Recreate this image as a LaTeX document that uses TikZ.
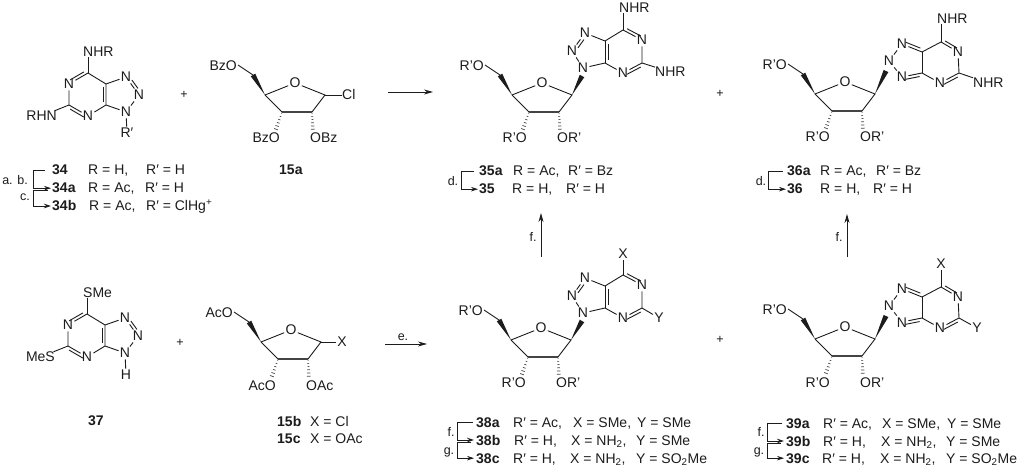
\documentclass[tikz,border=0pt]{standalone}
\usepackage{fontspec}
\setmainfont{Liberation Sans}
\usetikzlibrary{calc,arrows.meta}
\definecolor{ink}{HTML}{1c1c1c}
\definecolor{softink}{HTML}{444444}
\tikzset{
  bond/.style={line width=0.9pt,draw=ink},
  boldbond/.style={line width=1.5pt,draw=softink},
  atom/.style={inner sep=1.2pt,text height=10pt,text depth=0pt,text=ink},
  lab/.style={inner sep=0pt,anchor=base west,text=ink},
  note/.style={inner sep=0pt,text=ink,font=\fontsize{12.5}{14}\selectfont},
  bracket/.style={line width=0.85pt,draw=ink,-{Stealth[length=7pt,width=4.5pt]}},
  react/.style={line width=0.85pt,draw=ink,-{Stealth[length=9pt,width=5pt]}},
}
% inner line of a double bond
\newcommand{\dbl}[3]{\draw[bond,shorten <=#3,shorten >=#3] ($(#1)!3pt!90:(#2)$) -- ($(#2)!3pt!-90:(#1)$);}
\newcommand{\dblr}[3]{\draw[bond,shorten <=#3,shorten >=#3] ($(#1)!3pt!-90:(#2)$) -- ($(#2)!3pt!90:(#1)$);}
\newcommand{\wedgeb}[2]{\fill[ink] (#1) -- ($(#2)!2.6pt!90:(#1)$) -- ($(#2)!2.6pt!-90:(#1)$) -- cycle;}
\newcommand{\hashb}[2]{\foreach \t/\w in {0.06/0.5,0.22/0.8,0.38/1.1,0.54/1.4,0.70/1.7,0.86/2.0,1/2.3}{%
  \draw[line width=0.7pt,softink] ($($(#1)!\t!(#2)$)!\w pt!90:(#2)$) -- ($($(#1)!\t!(#2)$)!\w pt!-90:(#2)$);}}
% sugar: prefix, x, y, 5'-label, 3'-label, 2'-label
\newcommand{\sugar}[6]{%
\begin{scope}[shift={(#2,#3)}]
  \coordinate (#1c4) at (0,0);
  \coordinate (#1c5) at (-12,-20);
  \coordinate (#1c3) at (17,17);
  \coordinate (#1c2) at (47,17);
  \coordinate (#1c1) at (60,0);
  \coordinate (#1h3) at (10,37);
  \coordinate (#1h2) at (48,37);
  \node[atom] (#1o) at (30,-12) {O};
  \node[atom,anchor=east,inner sep=0pt] (#1o5) at (-28,-29) {#4};
  \node[atom,anchor=east,inner sep=0pt] (#1o3) at (15,43) {#5};
  \node[atom,anchor=west,inner sep=0pt] (#1o2) at (45,43) {#6};
  \draw[bond] (#1c4) -- (#1o) -- (#1c1) -- (#1c2);
  \draw[bond] (#1c3) -- (#1c4);
  \draw[boldbond] (#1c2) -- (#1c3);
  \draw[bond] (#1c5) -- ([xshift=1pt,yshift=1pt]#1o5.east);
  \wedgeb{#1c4}{#1c5}
  \hashb{#1c3}{#1h3}
  \hashb{#1c2}{#1h2}
\end{scope}}
% base linked through the N next to the ring
\newcommand{\baseA}[1]{%
  \node[atom] (#1n9) at (71,-27) {N};
  \node[atom] (#1n8) at (60,-44) {N};
  \node[atom] (#1n7) at (73,-62) {N};
  \coordinate (#1c5b) at (93,-54);
  \coordinate (#1c4b) at (93,-32);
  \coordinate (#1c6b) at (111,-65);
  \node[atom] (#1n1) at (130,-55) {N};
  \coordinate (#1c2b) at (130,-32);
  \node[atom] (#1n3) at (111,-22) {N};
  \draw[bond] (#1n9) -- (#1n8) -- (#1n7) -- (#1c5b) -- (#1c6b) -- (#1n1) -- (#1c2b) -- (#1n3) -- (#1c4b) -- (#1n9);
  \draw[bond] (#1c4b) -- (#1c5b);
  \dbl{#1c5b}{#1c4b}{3pt}
  \dbl{#1c6b}{#1n1}{3pt}
  \dbl{#1c2b}{#1n3}{3pt}
  \dblr{#1n8}{#1n7}{6pt}
}
\newcommand{\baseB}[1]{%
  \node[atom] (#1n9) at (74,-33) {N};
  \node[atom] (#1n8) at (87,-50) {N};
  \node[atom] (#1n7) at (87,-17) {N};
  \coordinate (#1c5b) at (107,-42);
  \coordinate (#1c4b) at (107,-21);
  \coordinate (#1c6b) at (126,-52);
  \node[atom] (#1n1) at (143,-42) {N};
  \coordinate (#1c2b) at (144,-21);
  \node[atom] (#1n3) at (125,-11) {N};
  \draw[bond] (#1n9) -- (#1n8) -- (#1c5b) -- (#1c6b) -- (#1n1) -- (#1c2b) -- (#1n3) -- (#1c4b) -- (#1n7) -- (#1n9);
  \draw[bond] (#1c4b) -- (#1c5b);
  \dbl{#1n8}{#1c5b}{3pt}
  \dblr{#1n7}{#1c4b}{3pt}
  \dbl{#1c6b}{#1n1}{3pt}
  \dbl{#1c2b}{#1n3}{3pt}
}
% free bicycle
\newcommand{\baseC}[1]{%
  \coordinate (#1c6) at (0,0);
  \node[atom] (#1n1) at (-19,11) {N};
  \coordinate (#1c2) at (-19,32);
  \node[atom] (#1n3) at (0,43) {N};
  \coordinate (#1c4) at (18,32);
  \coordinate (#1c5) at (18,11);
  \node[atom] (#1n7) at (38,4) {N};
  \node[atom] (#1n8) at (51,22) {N};
  \node[atom] (#1n9) at (38,39) {N};
  \draw[bond] (#1c6) -- (#1n1) -- (#1c2) -- (#1n3) -- (#1c4) -- (#1c5) -- (#1c6);
  \draw[bond] (#1c5) -- (#1n7) -- (#1n8) -- (#1n9) -- (#1c4);
  \dblr{#1c6}{#1n1}{3pt}
  \dblr{#1c2}{#1n3}{3pt}
  \dbl{#1c4}{#1c5}{3pt}
  \dbl{#1n7}{#1n8}{6pt}
}
\newcommand{\lbl}[4]{\node[lab] (#1) at (#2,#3) {#4};}
\begin{document}
\begin{tikzpicture}[x=1pt,y=-1pt,font=\fontsize{14}{16}\selectfont]
\useasboundingbox (0,0) rectangle (1023,470);
\fill[white] (0,0) rectangle (1023,470);

%----- 34
\begin{scope}[shift={(88,73)}]
  \baseC{a}
  \node[atom,anchor=west,inner sep=0pt] (atop) at (-5,-21) {NHR};
  \node[atom,anchor=east,inner sep=0pt] (aleft) at (-31,43) {RHN};
  \node[atom] (arp) at (39,60) {R′};
  \draw[bond] (ac6) -- (ac6 |- atop.south);
  \draw[bond] (ac2) -- (aleft);
  \draw[bond] (an9) -- (arp);
\end{scope}
\node[note] (p1) at (184,95) {+};

%----- 15a
\sugar{b}{265}{95}{BzO}{BzO}{OBz}
\node[atom,anchor=west,inner sep=0pt] (bcl) at (342,95) {Cl};
\draw[bond] (bc1) -- (bcl);

%----- 35
\sugar{c}{512}{95}{R'O}{R'O}{OR'}
\begin{scope}[shift={(512,95)}]
  \baseA{c}
  \node[atom,anchor=west,inner sep=0pt] (ctop) at (107,-87) {NHR};
  \node[atom,anchor=west,inner sep=0pt] (cright) at (143,-23) {NHR};
  \coordinate (cw) at (70,-19);
  \draw[bond] (cc6b) -- (cc6b |- ctop.south);
  \draw[bond] (cc2b) -- (cright);
\end{scope}
\wedgeb{cc1}{cw}
\node[note] (p2) at (720,94) {+};

%----- 36
\sugar{d}{815}{94}{R'O}{R'O}{OR'}
\begin{scope}[shift={(815,94)}]
  \baseB{d}
  \node[atom,anchor=west,inner sep=0pt] (dtop) at (122,-75) {NHR};
  \node[atom,anchor=west,inner sep=0pt] (dright) at (158,-11) {NHR};
  \coordinate (dw) at (71,-23);
  \draw[bond] (dc6b) -- (dc6b |- dtop.south);
  \draw[bond] (dc2b) -- (dright);
\end{scope}
\wedgeb{dc1}{dw}

%----- 37
\begin{scope}[shift={(87,314)}]
  \baseC{e}
  \node[atom,anchor=west,inner sep=0pt] (etop) at (-4,-21) {SMe};
  \node[atom,anchor=east,inner sep=0pt] (eleft) at (-32,43) {MeS};
  \node[atom] (eh) at (39,61) {H};
  \draw[bond] (ec6) -- (ec6 |- etop.south);
  \draw[bond] (ec2) -- (eleft);
  \draw[bond] (en9) -- (eh);
\end{scope}
\node[note] (p3) at (180,343) {+};

%----- 15b,c
\sugar{f}{261}{342}{AcO}{AcO}{OAc}
\node[atom] (fx) at (342,342) {X};
\draw[bond] (fc1) -- (fx);

%----- 38
\sugar{g}{511}{340}{R'O}{R'O}{OR'}
\begin{scope}[shift={(512,340)}]
  \baseA{g}
  \node[atom] (gtop) at (111,-86) {X};
  \node[atom] (gright) at (147,-22) {Y};
  \coordinate (gw) at (70,-19);
  \draw[bond] (gc6b) -- (gtop);
  \draw[bond] (gc2b) -- (gright);
\end{scope}
\wedgeb{gc1}{gw}
\node[note] (p4) at (720,340) {+};

%----- 39
\sugar{h}{815}{339}{R'O}{R'O}{OR'}
\begin{scope}[shift={(815,339)}]
  \baseB{h}
  \node[atom] (htop) at (126,-75) {X};
  \node[atom] (hright) at (162,-11) {Y};
  \coordinate (hw) at (71,-23);
  \draw[bond] (hc6b) -- (htop);
  \draw[bond] (hc2b) -- (hright);
\end{scope}
\wedgeb{hc1}{hw}

%----- reaction arrows
\coordinate (r1s) at (388,92); \coordinate (r1e) at (433,92);
\draw[react] (r1s) -- (r1e);
\coordinate (r2s) at (385,344); \coordinate (r2e) at (427,344);
\draw[react] (r2s) -- (r2e);
\node[note] (le) at (403,337) {e.};
\coordinate (r3s) at (541,257); \coordinate (r3e) at (541,213);
\draw[react] (r3s) -- (r3e);
\node[note] (lf1) at (533,237) {f.};
\coordinate (r4s) at (847,257); \coordinate (r4e) at (847,214);
\draw[react] (r4s) -- (r4e);
\node[note] (lf2) at (839,237) {f.};

%----- compound lists
\lbl{l34}{52}{175}{\textbf{34}}
\lbl{t34r}{88}{175}{R = H,}
\lbl{t34s}{146}{175}{R′ = H}
\lbl{l34a}{52}{193}{\textbf{34a}}
\lbl{t34ar}{88}{193}{R = Ac,}
\lbl{t34as}{145}{193}{R′ = H}
\lbl{l34b}{52}{211}{\textbf{34b}}
\lbl{t34br}{89}{211}{R = Ac,}
\lbl{t34bs}{146}{211}{R′ = ClHg\textsuperscript{+}}
\draw[bracket] ([xshift=-7pt]l34.west) -| ([xshift=-19pt]l34a.west) -- ([xshift=-1pt]l34a.west);
\draw[bracket] ([xshift=-4pt,yshift=-2pt]l34a.west) -| ([xshift=-19pt]l34b.west) -- ([xshift=-1pt]l34b.west);
\node[note] (la) at (15,180) {a. b.};
\node[note] (lc) at (25,197) {c.};

\lbl{l15a}{279}{175}{\textbf{15a}}

\lbl{l35a}{479}{176}{\textbf{35a}}
\lbl{t35ar}{513}{176}{R = Ac,}
\lbl{t35as}{568}{176}{R′ = Bz}
\lbl{l35}{479}{194}{\textbf{35}}
\lbl{t35r}{512}{194}{R = H,}
\lbl{t35s}{566}{194}{R′ = H}
\draw[bracket] ([xshift=-5pt]l35a.west) -| ([xshift=-18pt]l35.west) -- ([xshift=-1pt]l35.west);
\node[note] (ld1) at (453,181) {d.};

\lbl{l36a}{787}{176}{\textbf{36a}}
\lbl{t36ar}{820}{176}{R = Ac,}
\lbl{t36as}{876}{176}{R′ = Bz}
\lbl{l36}{787}{194}{\textbf{36}}
\lbl{t36r}{820}{194}{R = H,}
\lbl{t36s}{873}{194}{R′ = H}
\draw[bracket] ([xshift=-4pt]l36a.west) -| ([xshift=-19pt]l36.west) -- ([xshift=-1pt]l36.west);
\node[note] (ld2) at (761,181) {d.};

\lbl{l37}{88}{425}{\textbf{37}}
\lbl{l15b}{277}{426}{\textbf{15b}}
\lbl{t15b}{310}{426}{X = Cl}
\lbl{l15c}{277}{443}{\textbf{15c}}
\lbl{t15c}{310}{443}{X = OAc}

\lbl{l38a}{476}{427}{\textbf{38a}}
\lbl{t38ar}{513}{427}{R′ = Ac,}
\lbl{t38ax}{573}{427}{X = SMe,}
\lbl{t38ay}{637}{427}{Y = SMe}
\lbl{l38b}{476}{445}{\textbf{38b}}
\lbl{t38br}{514}{445}{R′ = H,}
\lbl{t38bx}{571}{445}{X = NH\textsubscript{2},}
\lbl{t38by}{636}{445}{Y = SMe}
\lbl{l38c}{476}{463}{\textbf{38c}}
\lbl{t38cr}{513}{463}{R′ = H,}
\lbl{t38cx}{570}{463}{X = NH\textsubscript{2},}
\lbl{t38cy}{636}{463}{Y = SO\textsubscript{2}Me}
\draw[bracket] ([xshift=-3pt]l38a.west) -| ([xshift=-19pt]l38b.west) -- ([xshift=-2pt]l38b.west);
\draw[bracket] ([xshift=-5pt,yshift=-2pt]l38b.west) -| ([xshift=-19pt]l38c.west) -- ([xshift=-2pt]l38c.west);
\node[note] (lf3) at (451,432) {f.};
\node[note] (lg1) at (449,452) {g.};

\lbl{l39a}{786}{428}{\textbf{39a}}
\lbl{t39ar}{823}{428}{R′ = Ac,}
\lbl{t39ax}{882}{428}{X = SMe,}
\lbl{t39ay}{947}{428}{Y = SMe}
\lbl{l39b}{786}{446}{\textbf{39b}}
\lbl{t39br}{823}{446}{R′ = H,}
\lbl{t39bx}{881}{446}{X = NH\textsubscript{2},}
\lbl{t39by}{946}{446}{Y = SMe}
\lbl{l39c}{786}{463}{\textbf{39c}}
\lbl{t39cr}{822}{463}{R′ = H,}
\lbl{t39cx}{880}{463}{X = NH\textsubscript{2},}
\lbl{t39cy}{946}{463}{Y = SO\textsubscript{2}Me}
\draw[bracket] ([xshift=-4pt]l39a.west) -| ([xshift=-19pt]l39b.west) -- ([xshift=-2pt]l39b.west);
\draw[bracket] ([xshift=-5pt,yshift=-2pt]l39b.west) -| ([xshift=-19pt]l39c.west) -- ([xshift=-2pt]l39c.west);
\node[note] (lf4) at (761,432) {f.};
\node[note] (lg2) at (759,452) {g.};
\end{tikzpicture}
\end{document}
